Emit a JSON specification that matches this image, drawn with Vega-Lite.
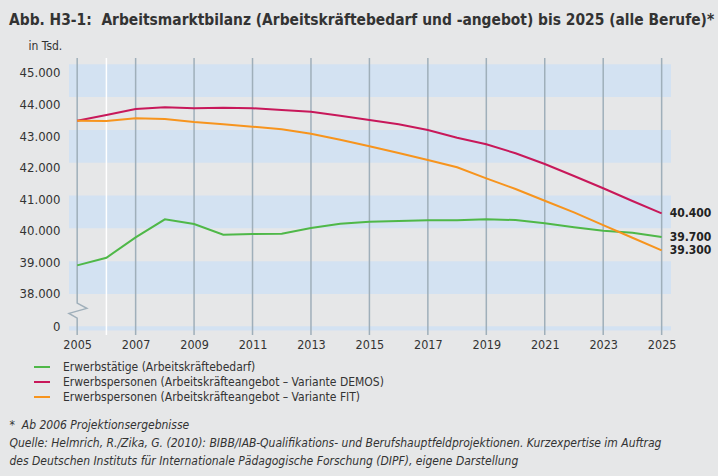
{
  "$schema": "https://vega.github.io/schema/vega-lite/v6.json",
  "width": 602,
  "height": 277,
  "autosize": "none",
  "padding": {"left": 69, "top": 58, "right": 47, "bottom": 141},
  "background": "#e6e7e8",
  "title": {
    "text": "Abb. H3-1:\u00a0 Arbeitsmarktbilanz (Arbeitskräftebedarf und -angebot) bis 2025 (alle Berufe)*",
    "anchor": "start",
    "frame": "group",
    "dx": -60,
    "offset": 11,
    "font": "DejaVu Sans Condensed, Liberation Sans Narrow, sans-serif",
    "fontSize": 15.4,
    "fontWeight": "bold",
    "color": "#333333"
  },
  "config": {
    "view": {"stroke": null},
    "font": "DejaVu Sans Condensed, Liberation Sans Narrow, sans-serif",
    "axisY": {
      "values": [37000, 38000, 39000, 40000, 41000, 42000, 43000, 44000, 45000],
      "labelExpr": "datum.value == 37000 ? '0' : replace(format(datum.value, ',.0f'), ',', '.')",
      "labelOverlap": false,
      "domain": false, "ticks": false, "grid": false,
      "labelPadding": 9,
      "labelFontSize": 13,
      "labelColor": "#333333"
    }
  },
  "datasets": {
    "bands": [
      {"lo": 38000, "hi": 39000},
      {"lo": 40000, "hi": 41000},
      {"lo": 42000, "hi": 43000},
      {"lo": 44000, "hi": 45000},
      {"lo": 36890, "hi": 37020}
    ],
    "grid": [
      {"year": 2007}, {"year": 2009}, {"year": 2011}, {"year": 2013}, {"year": 2015},
      {"year": 2017}, {"year": 2019}, {"year": 2021}, {"year": 2023}, {"year": 2025}
    ],
    "proj": [{"year": 2006}],
    "axisline": [
      {"o": 1, "year": 2005, "value": 45190},
      {"o": 2, "year": 2005, "value": 37723},
      {"o": 3, "year": 2005.33, "value": 37561},
      {"o": 4, "year": 2004.72, "value": 37409},
      {"o": 5, "year": 2005, "value": 37265},
      {"o": 6, "year": 2005, "value": 36750}
    ],
    "series": [
      {"year": 2005, "series": "Erwerbstätige (Arbeitskräftebedarf)", "value": 38872},
      {"year": 2006, "series": "Erwerbstätige (Arbeitskräftebedarf)", "value": 39104},
      {"year": 2007, "series": "Erwerbstätige (Arbeitskräftebedarf)", "value": 39726},
      {"year": 2008, "series": "Erwerbstätige (Arbeitskräftebedarf)", "value": 40274},
      {"year": 2009, "series": "Erwerbstätige (Arbeitskräftebedarf)", "value": 40131},
      {"year": 2010, "series": "Erwerbstätige (Arbeitskräftebedarf)", "value": 39805},
      {"year": 2011, "series": "Erwerbstätige (Arbeitskräftebedarf)", "value": 39826},
      {"year": 2012, "series": "Erwerbstätige (Arbeitskräftebedarf)", "value": 39835},
      {"year": 2013, "series": "Erwerbstätige (Arbeitskräftebedarf)", "value": 40009},
      {"year": 2014, "series": "Erwerbstätige (Arbeitskräftebedarf)", "value": 40140},
      {"year": 2015, "series": "Erwerbstätige (Arbeitskräftebedarf)", "value": 40201},
      {"year": 2016, "series": "Erwerbstätige (Arbeitskräftebedarf)", "value": 40223},
      {"year": 2017, "series": "Erwerbstätige (Arbeitskräftebedarf)", "value": 40244},
      {"year": 2018, "series": "Erwerbstätige (Arbeitskräftebedarf)", "value": 40244},
      {"year": 2019, "series": "Erwerbstätige (Arbeitskräftebedarf)", "value": 40274},
      {"year": 2020, "series": "Erwerbstätige (Arbeitskräftebedarf)", "value": 40253},
      {"year": 2021, "series": "Erwerbstätige (Arbeitskräftebedarf)", "value": 40152},
      {"year": 2022, "series": "Erwerbstätige (Arbeitskräftebedarf)", "value": 40030},
      {"year": 2023, "series": "Erwerbstätige (Arbeitskräftebedarf)", "value": 39927},
      {"year": 2024, "series": "Erwerbstätige (Arbeitskräftebedarf)", "value": 39866},
      {"year": 2025, "series": "Erwerbstätige (Arbeitskräftebedarf)", "value": 39735},
      {"year": 2005, "series": "Erwerbspersonen (Arbeitskräfteangebot – Variante DEMOS)", "value": 43280},
      {"year": 2006, "series": "Erwerbspersonen (Arbeitskräfteangebot – Variante DEMOS)", "value": 43454},
      {"year": 2007, "series": "Erwerbspersonen (Arbeitskräfteangebot – Variante DEMOS)", "value": 43637},
      {"year": 2008, "series": "Erwerbspersonen (Arbeitskräfteangebot – Variante DEMOS)", "value": 43689},
      {"year": 2009, "series": "Erwerbspersonen (Arbeitskräfteangebot – Variante DEMOS)", "value": 43659},
      {"year": 2010, "series": "Erwerbspersonen (Arbeitskräfteangebot – Variante DEMOS)", "value": 43677},
      {"year": 2011, "series": "Erwerbspersonen (Arbeitskräfteangebot – Variante DEMOS)", "value": 43659},
      {"year": 2012, "series": "Erwerbspersonen (Arbeitskräfteangebot – Variante DEMOS)", "value": 43607},
      {"year": 2013, "series": "Erwerbspersonen (Arbeitskräfteangebot – Variante DEMOS)", "value": 43555},
      {"year": 2014, "series": "Erwerbspersonen (Arbeitskräfteangebot – Variante DEMOS)", "value": 43433},
      {"year": 2015, "series": "Erwerbspersonen (Arbeitskräfteangebot – Variante DEMOS)", "value": 43302},
      {"year": 2016, "series": "Erwerbspersonen (Arbeitskräfteangebot – Variante DEMOS)", "value": 43170},
      {"year": 2017, "series": "Erwerbspersonen (Arbeitskräfteangebot – Variante DEMOS)", "value": 42997},
      {"year": 2018, "series": "Erwerbspersonen (Arbeitskräfteangebot – Variante DEMOS)", "value": 42762},
      {"year": 2019, "series": "Erwerbspersonen (Arbeitskräfteangebot – Variante DEMOS)", "value": 42561},
      {"year": 2020, "series": "Erwerbspersonen (Arbeitskräfteangebot – Variante DEMOS)", "value": 42287},
      {"year": 2021, "series": "Erwerbspersonen (Arbeitskräfteangebot – Variante DEMOS)", "value": 41960},
      {"year": 2022, "series": "Erwerbspersonen (Arbeitskräfteangebot – Variante DEMOS)", "value": 41595},
      {"year": 2023, "series": "Erwerbspersonen (Arbeitskräfteangebot – Variante DEMOS)", "value": 41220},
      {"year": 2024, "series": "Erwerbspersonen (Arbeitskräfteangebot – Variante DEMOS)", "value": 40832},
      {"year": 2025, "series": "Erwerbspersonen (Arbeitskräfteangebot – Variante DEMOS)", "value": 40457},
      {"year": 2005, "series": "Erwerbspersonen (Arbeitskräfteangebot – Variante FIT)", "value": 43280},
      {"year": 2006, "series": "Erwerbspersonen (Arbeitskräfteangebot – Variante FIT)", "value": 43271},
      {"year": 2007, "series": "Erwerbspersonen (Arbeitskräfteangebot – Variante FIT)", "value": 43354},
      {"year": 2008, "series": "Erwerbspersonen (Arbeitskräfteangebot – Variante FIT)", "value": 43332},
      {"year": 2009, "series": "Erwerbspersonen (Arbeitskräfteangebot – Variante FIT)", "value": 43241},
      {"year": 2010, "series": "Erwerbspersonen (Arbeitskräfteangebot – Variante FIT)", "value": 43170},
      {"year": 2011, "series": "Erwerbspersonen (Arbeitskräfteangebot – Variante FIT)", "value": 43098},
      {"year": 2012, "series": "Erwerbspersonen (Arbeitskräfteangebot – Variante FIT)", "value": 43018},
      {"year": 2013, "series": "Erwerbspersonen (Arbeitskräfteangebot – Variante FIT)", "value": 42884},
      {"year": 2014, "series": "Erwerbspersonen (Arbeitskräfteangebot – Variante FIT)", "value": 42701},
      {"year": 2015, "series": "Erwerbspersonen (Arbeitskräfteangebot – Variante FIT)", "value": 42500},
      {"year": 2016, "series": "Erwerbspersonen (Arbeitskräfteangebot – Variante FIT)", "value": 42296},
      {"year": 2017, "series": "Erwerbspersonen (Arbeitskräfteangebot – Variante FIT)", "value": 42082},
      {"year": 2018, "series": "Erwerbspersonen (Arbeitskräfteangebot – Variante FIT)", "value": 41860},
      {"year": 2019, "series": "Erwerbspersonen (Arbeitskräfteangebot – Variante FIT)", "value": 41524},
      {"year": 2020, "series": "Erwerbspersonen (Arbeitskräfteangebot – Variante FIT)", "value": 41198},
      {"year": 2021, "series": "Erwerbspersonen (Arbeitskräfteangebot – Variante FIT)", "value": 40841},
      {"year": 2022, "series": "Erwerbspersonen (Arbeitskräfteangebot – Variante FIT)", "value": 40488},
      {"year": 2023, "series": "Erwerbspersonen (Arbeitskräfteangebot – Variante FIT)", "value": 40100},
      {"year": 2024, "series": "Erwerbspersonen (Arbeitskräfteangebot – Variante FIT)", "value": 39713},
      {"year": 2025, "series": "Erwerbspersonen (Arbeitskräfteangebot – Variante FIT)", "value": 39329}
    ],
    "endlabels": [
      {"year": 2025, "value": 40457, "label": "40.400"},
      {"year": 2025, "value": 39735, "label": "39.700"},
      {"year": 2025, "value": 39329, "label": "39.300"}
    ]
  },
  "layer": [
    {
      "data": {"name": "bands"},
      "mark": {"type": "rect", "color": "#d3e2f2"},
      "encoding": {
        "y": {"field": "lo", "type": "quantitative", "scale": {"domain": [36750, 45190], "nice": false, "zero": false},
          "axis": {"labelOverlap": false, "title": "in Tsd.", "titleFontWeight": "normal", "titleFontSize": 12, "titleColor": "#333333", "titleAngle": 0, "titleAlign": "left", "titleBaseline": "middle", "titleX": -41, "titleY": -13}},
        "y2": {"field": "hi"}
      }
    },
    {
      "data": {"name": "grid"},
      "mark": {"type": "rule", "color": "#9fafba", "strokeWidth": 1.5},
      "encoding": {
        "x": {"field": "year", "type": "quantitative", "scale": {"domain": [2004.72, 2025.32], "nice": false, "zero": false}}
      }
    },
    {
      "data": {"name": "proj"},
      "mark": {"type": "rule", "color": "#ffffff", "strokeWidth": 1.5},
      "encoding": {
        "x": {"field": "year", "type": "quantitative"}
      }
    },
    {
      "data": {"name": "axisline"},
      "mark": {"type": "line", "color": "#9fafba", "strokeWidth": 1.5},
      "encoding": {
        "x": {"field": "year", "type": "quantitative"},
        "y": {"field": "value", "type": "quantitative",
          "axis": {"labelOverlap": false, "title": "in Tsd."}},
        "order": {"field": "o", "type": "quantitative"}
      }
    },
    {
      "data": {"name": "series"},
      "mark": {"type": "line", "strokeWidth": 2},
      "encoding": {
        "x": {
          "field": "year", "type": "quantitative",
          "axis": {
            "values": [2005, 2007, 2009, 2011, 2013, 2015, 2017, 2019, 2021, 2023, 2025],
            "format": "d",
            "domain": false, "ticks": false, "grid": false,
            "labelPadding": 3,
            "labelFontSize": 12.5,
            "labelColor": "#333333",
            "title": ["*\u00a0 Ab 2006 Projektionsergebnisse", "Quelle: Helmrich, R./Zika, G. (2010): BIBB/IAB-Qualifikations- und Berufshauptfeldprojektionen. Kurzexpertise im Auftrag", "des Deutschen Instituts für Internationale Pädagogische Forschung (DIPF), eigene Darstellung"],
            "titleFontStyle": "italic",
            "titleFontWeight": "normal",
            "titleFontSize": 12,
            "titleColor": "#333333",
            "titleAlign": "left",
            "titleAnchor": "start",
            "titleBaseline": "top",
            "titleX": -60,
            "titleY": 84,
            "titleLineHeight": 18
          }
        },
        "y": {
          "field": "value", "type": "quantitative",
          "axis": {"labelOverlap": false, "title": "in Tsd.", "labelOffset": {"expr": "max(0, (datum.value - 38000) * 0.00125)"}}
        },
        "color": {
          "field": "series", "type": "nominal",
          "scale": {
            "domain": ["Erwerbstätige (Arbeitskräftebedarf)", "Erwerbspersonen (Arbeitskräfteangebot – Variante DEMOS)", "Erwerbspersonen (Arbeitskräfteangebot – Variante FIT)"],
            "range": ["#4fb848", "#c8185a", "#f7941d"]
          },
          "legend": {
            "orient": "none",
            "legendX": -36,
            "legendY": 300,
            "title": null,
            "padding": 0,
            "symbolType": "stroke",
            "symbolStrokeWidth": 2,
            "symbolSize": 256,
            "labelFontSize": 12,
            "labelColor": "#333333",
            "labelOffset": 12,
            "rowPadding": -4,
            "labelLimit": 500
          }
        }
      }
    },
    {
      "data": {"name": "endlabels"},
      "mark": {"type": "text", "align": "left", "baseline": "middle", "dx": 8, "fontWeight": "bold", "fontSize": 12, "color": "#222222"},
      "encoding": {
        "x": {"field": "year", "type": "quantitative"},
        "y": {"field": "value", "type": "quantitative", "axis": {"labelOverlap": false, "title": "in Tsd."}},
        "text": {"field": "label"}
      }
    }
  ]
}
